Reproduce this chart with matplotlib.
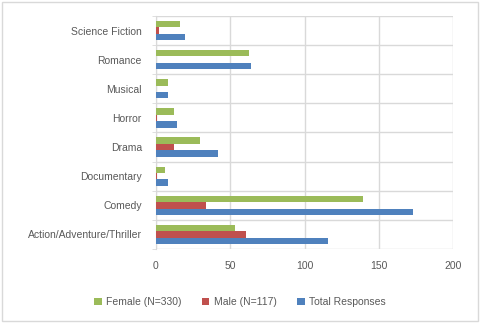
import numpy as np
import matplotlib
matplotlib.use("Agg")
import matplotlib.pyplot as plt
from matplotlib.patches import Rectangle

plt.rcParams["font.family"] = ["Liberation Sans", "DejaVu Sans"]

generos = ["Action/Adventure/Thriller", "Comedy", "Documentary", "Drama",
           "Horror", "Musical", "Romance", "Science Fiction"]
mujeres = [53, 139, 6, 30, 12, 8, 63, 16]
hombres = [61, 34, 1, 12, 1, 0, 0, 2]
total = [116, 173, 8, 42, 14, 8, 64, 20]

series = ["Female (N=330)", "Male (N=117)", "Total Responses"]
colores = ["#9BBB59", "#C0504D", "#4F81BD"]
ticks_x = [0, 50, 100, 150, 200]

gris = "#D9D9D9"
texto = "#595959"

fig = plt.figure(figsize=(4.8, 3.24), dpi=100)
ax = fig.add_axes([0.3244, 0.2315, 0.62, 0.7191])

y = np.arange(len(generos))
h = 0.22
for i, (vals, nombre, c) in enumerate(zip([mujeres, hombres, total], series, colores)):
    ax.barh(y + (1 - i) * h, vals, height=h, color=c, label=nombre, zorder=3)

ax.set_xlim(0, 200)
ax.set_ylim(-0.5, len(generos) - 0.5)
ax.set_xticks(ticks_x)
ax.set_yticks(y)
ax.set_yticklabels(generos)
ax.set_yticks(np.arange(-0.5, len(generos)), minor=True)

ax.grid(axis="x", color=gris, linewidth=1, zorder=0)
ax.grid(axis="y", which="minor", color=gris, linewidth=1, zorder=0)
ax.tick_params(axis="both", which="major", length=0, labelsize=7.5, colors=texto)
ax.tick_params(axis="x", pad=9)
ax.tick_params(axis="y", pad=10)
ax.tick_params(axis="y", which="minor", length=3, color=gris)

for lado in ["top", "right", "bottom"]:
    ax.spines[lado].set_visible(False)
ax.spines["left"].set_color(gris)

fig.legend(loc="center", bbox_to_anchor=(0.5, 0.068), ncol=3, frameon=False,
           fontsize=7.5, handlelength=0.7, handleheight=0.7, handletextpad=0.4,
           columnspacing=2.0, labelcolor=texto)

fig.patches.append(Rectangle((0.005, 0.008), 0.99, 0.985, transform=fig.transFigure,
                             fill=False, edgecolor=gris, linewidth=1))

fig.savefig("out.png", dpi=100)
